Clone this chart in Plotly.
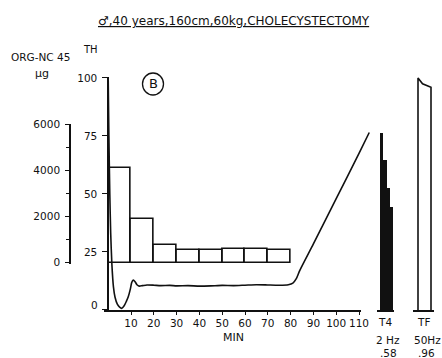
import plotly.graph_objects as go

# ---------------- data ----------------
org_interval_start = [0, 10, 20, 30, 40, 50, 60, 70]          # min
org_dose_ug = [4100, 1900, 760, 560, 560, 580, 590, 550]        # ORG-NC 45, µg per 10 min

th_time_min = [0, 0.3, 0.7, 1.1, 1.6, 2.3, 3.0, 4.0, 5.0, 5.9, 7.0, 8.0, 8.8, 9.7,
               10.3, 11.0, 11.8, 12.6, 13.6, 15, 17, 20, 23, 27, 30, 35, 40, 45,
               50, 55, 60, 65, 70, 75, 79, 81, 82.5, 84, 90, 100, 110, 114.5]
th_percent = [100, 75, 50, 33, 20, 10, 5.5, 2.5, 1.2, 0.7, 1.8, 3.8, 5.7, 9.0,
              11.8, 12.9, 12.2, 10.9, 10.3, 10.5, 10.8, 10.7, 10.5, 10.6, 10.4, 10.5, 10.3, 10.4,
              10.6, 10.5, 10.7, 10.9, 10.8, 10.7, 10.9, 11.6, 13.5, 17.0, 28.5, 48.0, 67.5, 76.5]

t4_stimulus = [1, 2, 3, 4]
t4_response = [76.3, 64.7, 52.6, 44.4]

tf_time = [0.0, 0.35, 1.0]
tf_force = [100.0, 97.5, 96.0]

x_ticks = [10, 20, 30, 40, 50, 60, 70, 80, 90, 100, 110]
th_ticks = [0, 25, 50, 75, 100]
th_ticktext = ["", "25", "50", "75", "100"]
org_ticks = [0, 2000, 4000, 6000]

title_text = "♂,40 years,160cm,60kg,CHOLECYSTECTOMY"

# ---------------- layout helpers ----------------
W, H = 442, 358
FONT = "DejaVu Sans, Liberation Sans, sans-serif"
INK = "#111111"


def fx(px):
    return px / W


def fy(py):
    return 1 - py / H


# main time scale: 0 min at 108.2 px, 2.28 px/min
X0, XS = 108.2, 2.28
# TH scale: 0 at 310 px, 2.32 px per %
Y0, YS = 310.0, 2.32
TH_TOP = 100.6
# ORG scale: 0 at 262.5 px, 6000 at 124 px
O0, OS = 262.5, (262.5 - 124.0) / 6000
ORG_LO, ORG_HI = -60, 6000

fig = go.Figure()

# ORG-NC 45 dose bars (outlined)
fig.add_trace(go.Bar(
    x=[s + 5 for s in org_interval_start], y=org_dose_ug, width=10,
    marker=dict(color="rgba(0,0,0,0)", line=dict(color=INK, width=1.6)),
    xaxis="x", yaxis="y2", showlegend=False, hoverinfo="skip"))

# TH curve
fig.add_trace(go.Scatter(
    x=th_time_min, y=th_percent, mode="lines",
    line=dict(color=INK, width=1.6, shape="spline", smoothing=0.6),
    xaxis="x4", yaxis="y", showlegend=False, hoverinfo="skip"))

# train-of-four bars
fig.add_trace(go.Bar(
    x=t4_stimulus, y=t4_response, width=1,
    marker=dict(color=INK, line=dict(width=0)),
    xaxis="x2", yaxis="y", showlegend=False, hoverinfo="skip"))

# tetanic fade outline
fig.add_trace(go.Scatter(
    x=[tf_time[0]] + tf_time + [tf_time[-1]], y=[0] + tf_force + [0],
    mode="lines", line=dict(color=INK, width=1.6),
    xaxis="x3", yaxis="y", showlegend=False, hoverinfo="skip"))

axis_common = dict(showgrid=False, zeroline=False, linecolor=INK, linewidth=1.6,
                   tickcolor=INK, tickwidth=1.4, tickfont=dict(family=FONT, size=10.5, color=INK))

fig.update_layout(
    width=W, height=H,
    margin=dict(l=0, r=0, t=0, b=0, autoexpand=False),
    paper_bgcolor="white", plot_bgcolor="rgba(0,0,0,0)",
    font=dict(family=FONT, color=INK),
    xaxis=dict(domain=[fx(X0 - 2 * XS), fx(X0 + 111 * XS)], range=[-2, 111], anchor="y",
               showline=True, ticks="outside", ticklen=3, tickvals=x_ticks, **axis_common),
    xaxis2=dict(domain=[fx(377), fx(394)], range=[-0.423, 4.808], anchor="y",
                showline=True, ticks="", showticklabels=False, showgrid=False, zeroline=False,
                linecolor=INK, linewidth=1.6),
    xaxis3=dict(domain=[fx(413), fx(434)], range=[-0.385, 1.231], anchor="y",
                showline=True, ticks="", showticklabels=False, showgrid=False, zeroline=False,
                linecolor=INK, linewidth=1.6),
    xaxis4=dict(domain=[fx(X0 - 2 * XS), fx(X0 + 117 * XS)], range=[-2, 117], anchor="y",
                visible=False),
    yaxis=dict(domain=[fy(Y0), fy(Y0 - TH_TOP * YS)], range=[0, TH_TOP], anchor="free",
               position=fx(X0), showline=True, ticks="outside", ticklen=5,
               tickvals=th_ticks, ticktext=th_ticktext, ticklabelstandoff=3, **axis_common),
    yaxis2=dict(domain=[fy(O0 - ORG_LO * OS), fy(O0 - ORG_HI * OS)], range=[ORG_LO, ORG_HI],
                anchor="free", position=fx(70), showline=True, ticks="outside", ticklen=4,
                tickvals=org_ticks, ticklabelstandoff=3,
                minor=dict(ticks="outside", ticklen=3, dtick=1000, tickcolor=INK, showgrid=False),
                **axis_common),
    bargap=0,
)

ann = []


def label(text, px, py, size=11, xanchor="center"):
    ann.append(dict(text=text, x=fx(px), y=fy(py), xref="paper", yref="paper",
                    showarrow=False, xanchor=xanchor, yanchor="middle",
                    font=dict(family=FONT, size=size, color=INK)))


label("<u>" + title_text + "</u>", 234, 21, size=12)
label("ORG-NC 45", 40, 57, size=10.5)
label("µg", 42, 73, size=11)
label("TH", 90, 49, size=10)
label("0", 94, 305, size=10.5)
label("B", 153, 84, size=13)
label("MIN", 233, 337, size=11)
label("T4", 385, 322, size=10.5)
label("2 Hz", 388, 340, size=10.5)
label(".58", 388, 353, size=10.5)
label("TF", 423, 322, size=10.5)
label("50Hz", 427, 340, size=10.5)
label(".96", 426, 353, size=10.5)
fig.update_layout(annotations=ann)

fig.add_shape(type="circle", xref="paper", yref="paper",
              x0=fx(153 - 10.5), x1=fx(153 + 10.5), y0=fy(84 + 11), y1=fy(84 - 11),
              line=dict(color=INK, width=1.3))

fig.write_html("out.html", config={"displayModeBar": False},
               post_script="document.body.style.margin='0';document.body.style.overflow='hidden';")
